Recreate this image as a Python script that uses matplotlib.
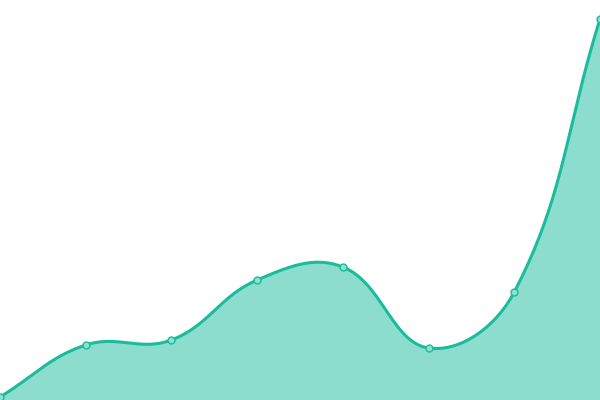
import numpy as np
import matplotlib
matplotlib.use("Agg")
import matplotlib.pyplot as plt

# data (0 = bottom edge, 400 = top edge)
x_idx = [0, 1, 2, 3, 4, 5, 6, 7]
values = [3, 55, 60, 120, 133, 52, 108, 381]

line_color = "#1abc9c"
tension = 0.4


def spline_path(xs, ys, n=40):
    # tension spline, control points computed in pixel space
    px = np.asarray(xs, float) * 600 / 7
    py = np.asarray(ys, float)
    cnt = len(px)
    c_prev = np.zeros((cnt, 2))
    c_next = np.zeros((cnt, 2))
    for i in range(cnt):
        a = np.array([px[max(i - 1, 0)], py[max(i - 1, 0)]])
        b = np.array([px[i], py[i]])
        c = np.array([px[min(i + 1, cnt - 1)], py[min(i + 1, cnt - 1)]])
        d01 = np.hypot(*(b - a))
        d12 = np.hypot(*(c - b))
        s01 = d01 / (d01 + d12)
        s12 = d12 / (d01 + d12)
        c_prev[i] = b - tension * s01 * (c - a)
        c_next[i] = b + tension * s12 * (c - a)
    out_x, out_y = [], []
    t = np.linspace(0, 1, n, endpoint=False)[:, None]
    for i in range(cnt - 1):
        p0 = np.array([px[i], py[i]])
        p3 = np.array([px[i + 1], py[i + 1]])
        p1 = c_next[i]
        p2 = c_prev[i + 1]
        pts = ((1 - t) ** 3) * p0 + 3 * ((1 - t) ** 2) * t * p1 \
            + 3 * (1 - t) * t ** 2 * p2 + t ** 3 * p3
        out_x.extend(pts[:, 0])
        out_y.extend(pts[:, 1])
    out_x.append(px[-1])
    out_y.append(py[-1])
    return np.array(out_x) * 7 / 600, np.array(out_y)


sx, sy = spline_path(x_idx, values)

fig = plt.figure(figsize=(6, 4), dpi=100)
ax = fig.add_axes([0, 0, 1, 1])
ax.fill_between(sx, sy, 0, color=line_color, alpha=0.5, linewidth=0)
ax.plot(sx, sy, color=line_color, linewidth=2.2)
ax.plot(x_idx, values, "o", markersize=5, markerfacecolor="#8ce0cf",
        markeredgecolor=line_color, markeredgewidth=1, clip_on=True)
ax.set_xlim(0, 7)
ax.set_ylim(0, 400)
ax.axis("off")
fig.savefig("out.png", dpi=100)
